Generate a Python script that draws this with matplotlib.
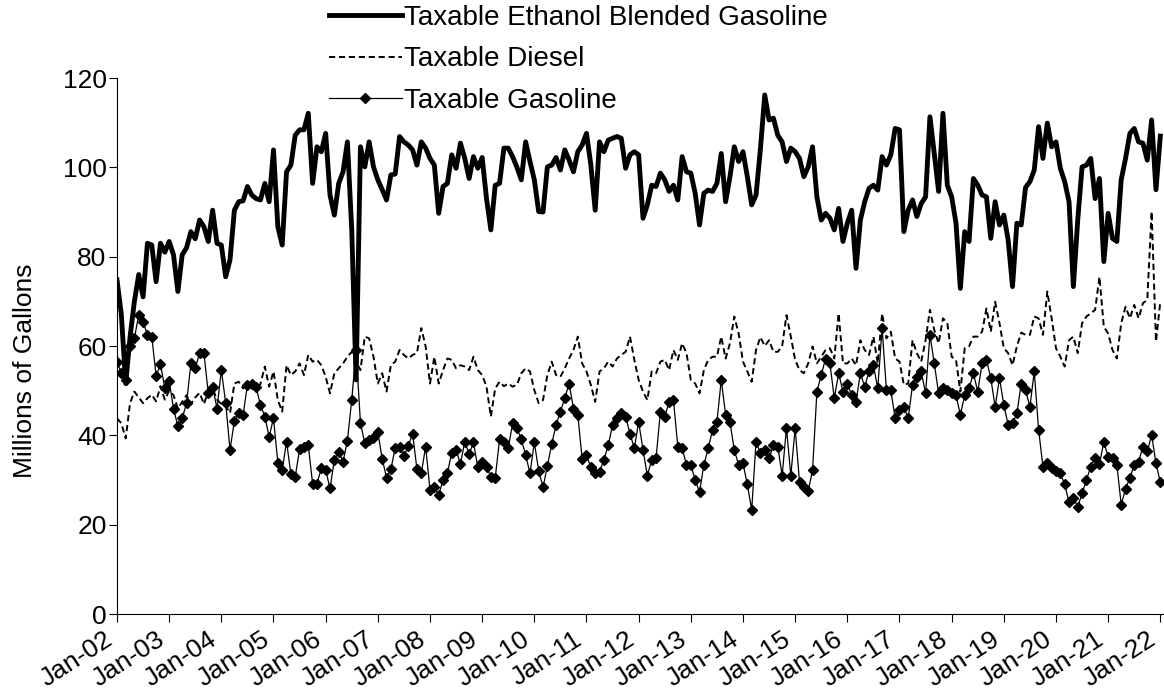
import matplotlib
matplotlib.use("Agg")
import matplotlib.pyplot as plt
import numpy as np
import pandas as pd

plt.rcParams['font.family'] = ['Liberation Sans', 'DejaVu Sans']

# Monthly data, Jan-2002 .. Jan-2022 (millions of gallons)
ethanol = [
    74.8, 67.0, 51.6, 62.0, 70.0, 76.0, 71.0, 83.0, 82.6, 74.4, 83.0, 81.0,
    83.4, 80.4, 72.2, 80.4, 82.0, 85.6, 84.0, 88.2, 86.7, 83.4, 90.4, 83.0,
    82.6, 75.5, 79.3, 90.4, 92.3, 92.5, 95.7, 93.8, 93.0, 92.7, 96.4, 92.3,
    103.9, 86.7, 82.6, 99.0, 100.5, 107.2, 108.4, 108.4, 112.1, 96.4, 104.6, 103.5,
    107.6, 93.8, 89.3, 96.4, 99.0, 105.7, 86.0, 52.4, 104.6, 100.1, 105.7, 100.1,
    97.2, 95.0, 92.7, 98.3, 98.5, 106.9, 105.7, 105.0, 103.9, 100.5, 105.7, 104.3,
    102.0, 100.5, 89.7, 95.7, 96.4, 102.8, 99.8, 105.4, 102.0, 97.5, 102.4, 99.8,
    102.2, 93.0, 86.0, 96.0, 96.4, 104.3, 104.3, 102.4, 100.0, 97.2, 105.7, 101.3,
    97.2, 90.1, 90.0, 100.1, 100.5, 102.2, 99.4, 103.9, 101.6, 99.0, 103.5, 105.0,
    107.6, 100.5, 90.4, 105.7, 103.5, 106.1, 106.5, 106.9, 106.5, 99.8, 102.8, 103.5,
    102.8, 88.6, 91.6, 96.0, 95.7, 98.7, 97.2, 94.6, 96.0, 92.7, 102.4, 99.0,
    98.7, 94.2, 87.1, 94.2, 94.9, 94.6, 96.4, 103.1, 92.3, 97.9, 104.6, 101.3,
    103.5, 97.9, 91.6, 93.8, 104.0, 116.2, 110.6, 111.0, 107.2, 105.7, 101.3, 104.3,
    103.5, 102.0, 97.9, 100.1, 104.6, 93.4, 88.2, 89.7, 88.6, 86.0, 90.8, 83.4,
    87.5, 90.4, 77.4, 88.2, 92.3, 95.3, 96.0, 94.9, 102.4, 100.5, 102.8, 108.7,
    108.4, 85.6, 90.4, 92.7, 89.0, 91.9, 93.4, 111.3, 103.1, 94.6, 112.1, 96.0,
    93.4, 87.5, 72.9, 85.6, 83.4, 97.5, 96.0, 93.8, 93.4, 84.1, 92.3, 87.1,
    89.3, 83.7, 73.3, 87.5, 87.1, 95.5, 96.8, 99.4, 109.1, 102.0, 109.9, 104.6,
    105.7, 99.8, 96.8, 92.3, 73.3, 88.2, 100.1, 100.5, 102.0, 93.0, 97.5, 78.9,
    89.7, 84.1, 83.4, 97.2, 102.0, 107.6, 108.7, 105.7, 105.4, 101.6, 110.6, 95.0,
    107.0,
]

diesel = [
    43.8, 42.7, 39.3, 47.2, 49.8, 48.5, 47.2, 48.3, 49.1, 47.6, 51.0, 48.0,
    50.0, 49.0, 46.0, 47.5, 49.0, 47.0, 48.5, 49.5, 47.0, 50.0, 50.5, 48.0,
    47.0, 46.5, 45.0, 51.6, 52.0, 50.5, 51.3, 51.0, 50.5, 51.5, 55.4, 50.9,
    54.3, 47.9, 45.3, 55.7, 53.5, 54.3, 56.1, 53.5, 58.0, 56.5, 56.9, 55.7,
    53.1, 49.4, 53.9, 55.0, 56.1, 57.6, 58.7, 56.5, 54.6, 62.1, 61.7, 57.6,
    51.6, 53.9, 49.8, 55.7, 56.5, 59.1, 58.0, 57.2, 58.0, 58.4, 64.0, 59.9,
    51.6, 57.6, 51.6, 54.6, 57.2, 56.9, 55.0, 55.7, 55.4, 54.6, 57.6, 54.6,
    53.5, 50.9, 44.2, 50.5, 52.0, 51.0, 51.6, 50.9, 51.3, 53.9, 55.0, 54.3,
    50.1, 47.2, 47.9, 53.5, 56.5, 53.5, 53.1, 55.0, 57.2, 59.1, 62.1, 56.1,
    54.3, 51.3, 47.5, 54.3, 55.0, 56.5, 55.4, 57.2, 58.0, 58.7, 62.1, 56.9,
    52.4, 49.8, 47.9, 54.3, 53.9, 56.5, 56.9, 54.6, 59.1, 56.9, 60.6, 58.4,
    52.4, 51.6, 49.4, 54.6, 56.9, 57.6, 57.6, 62.1, 57.2, 60.6, 66.6, 62.8,
    56.5, 54.3, 52.0, 59.1, 62.0, 60.0, 61.3, 58.7, 58.7, 59.9, 66.9, 62.1,
    56.9, 54.6, 53.9, 56.1, 59.9, 56.1, 57.6, 59.1, 59.5, 57.2, 67.3, 56.1,
    56.1, 57.2, 55.7, 61.3, 59.1, 58.0, 62.1, 56.1, 67.3, 61.7, 63.2, 57.2,
    56.5, 51.3, 51.6, 61.3, 58.4, 56.5, 61.3, 68.1, 63.6, 60.6, 66.2, 65.1,
    57.6, 56.9, 49.8, 59.5, 59.9, 62.1, 62.1, 63.2, 68.4, 63.2, 69.9, 65.1,
    59.5, 58.4, 55.7, 59.9, 63.0, 62.5, 62.5, 66.6, 66.2, 62.5, 72.2, 66.2,
    59.5, 57.6, 55.4, 61.3, 62.1, 58.4, 65.1, 66.6, 67.3, 68.1, 75.5, 64.3,
    62.8, 59.1, 57.2, 65.1, 68.8, 66.2, 69.2, 66.2, 69.6, 70.3, 90.1, 61.0,
    70.0,
]

gasoline = [
    56.5, 53.9, 52.5, 59.9, 61.7, 67.0, 65.4, 62.5, 62.1, 53.3, 56.0, 50.5,
    52.2, 46.0, 42.0, 43.8, 47.2, 56.1, 55.0, 58.4, 58.4, 49.4, 50.9, 46.0,
    54.6, 47.3, 36.7, 43.3, 45.1, 44.5, 51.3, 51.5, 50.8, 46.8, 44.2, 39.7,
    43.8, 33.9, 32.2, 38.6, 31.3, 30.7, 36.9, 37.5, 37.8, 29.1, 29.2, 32.6,
    32.2, 28.1, 34.5, 36.3, 34.1, 38.8, 48.0, 59.0, 42.8, 38.2, 39.0, 39.5,
    40.7, 34.8, 30.5, 32.4, 37.2, 37.5, 35.4, 37.6, 40.4, 32.4, 31.5, 37.5,
    27.8, 28.4, 26.6, 30.1, 31.5, 36.1, 36.7, 33.6, 38.6, 35.8, 38.4, 32.8,
    34.1, 33.0, 30.7, 30.4, 39.1, 38.4, 37.1, 42.7, 41.6, 39.1, 35.6, 31.5,
    38.4, 32.1, 28.4, 33.1, 38.1, 42.3, 45.3, 48.3, 51.6, 46.0, 44.5, 34.8,
    35.6, 32.8, 31.5, 31.9, 34.5, 37.8, 42.3, 43.8, 44.9, 44.2, 40.4, 37.1,
    43.0, 36.7, 31.0, 34.5, 34.9, 45.3, 44.2, 47.5, 47.9, 37.5, 37.1, 33.4,
    33.4, 30.0, 27.3, 33.4, 37.1, 41.2, 43.0, 52.4, 44.6, 43.0, 36.7, 33.4,
    33.7, 29.0, 23.3, 38.6, 36.0, 36.7, 34.9, 37.8, 37.5, 31.0, 41.6, 31.0,
    41.6, 29.5, 28.5, 27.5, 32.2, 49.8, 53.5, 57.2, 56.1, 48.3, 53.9, 49.8,
    51.6, 49.0, 47.5, 53.9, 50.9, 54.3, 55.7, 50.5, 64.0, 50.1, 50.1, 43.8,
    45.7, 46.4, 43.8, 51.3, 53.1, 54.3, 49.4, 62.5, 56.1, 49.4, 50.5, 50.1,
    49.4, 49.0, 44.6, 49.0, 50.5, 53.9, 49.8, 56.1, 56.9, 52.8, 46.4, 52.8,
    46.8, 42.3, 42.7, 44.9, 51.6, 50.1, 46.4, 54.3, 41.2, 33.0, 33.7, 32.6,
    32.0, 31.5, 29.0, 25.0, 26.0, 24.0, 27.0, 30.0, 33.0, 35.0, 33.5, 38.6,
    35.2, 34.9, 33.4, 24.5, 28.0, 30.5, 33.4, 34.1, 37.5, 36.4, 40.1, 33.7,
    29.5,
]

year_labels = ['Jan-%02d' % (y % 100) for y in range(2002, 2023)]

x = np.arange(len(ethanol))
FS = 19
LFS = 20

fig = plt.figure(figsize=(11.64, 6.98), dpi=100)
ax = fig.add_axes([117 / 1164, 1 - 614 / 698, 1045.5 / 1164, 536 / 698])

l1, = ax.plot(x, ethanol, color='black', lw=3.5, label='Taxable Ethanol Blended Gasoline',
              solid_joinstyle='round')
l2, = ax.plot(x, diesel, color='black', lw=1.4, ls=(0, (3.2, 1.9)), label='Taxable Diesel')
l3, = ax.plot(x, gasoline, color='black', lw=0.9, marker='D', markersize=5.0,
              label='Taxable Gasoline')

ax.set_xlim(0, 240.5)
ax.set_ylim(0, 120)
ax.set_yticks(np.arange(0, 121, 20))
ax.set_xticks(np.arange(0, 241, 12))
ax.set_xticklabels(year_labels, rotation=33, ha='right', va='top')
ax.tick_params(axis='both', direction='out', length=5.5, width=0.8, labelsize=FS,
               colors='black')
ax.tick_params(axis='y', pad=2)
ax.tick_params(axis='x', pad=4)
ax.spines['top'].set_visible(False)
ax.spines['right'].set_visible(False)

fig.text(25 / 1164, 1 - 371 / 698, 'Millions of Gallons', rotation=90,
         ha='center', va='center', fontsize=FS)

leg = fig.legend(handles=[l1, l2, l3], loc='upper left',
                 bbox_to_anchor=(329 / 1164, 1 - 5 / 698), frameon=False,
                 fontsize=LFS, handlelength=2.62, handletextpad=0.08,
                 labelspacing=0.55, borderpad=0, borderaxespad=0)

fig.savefig('out.png', dpi=100)
